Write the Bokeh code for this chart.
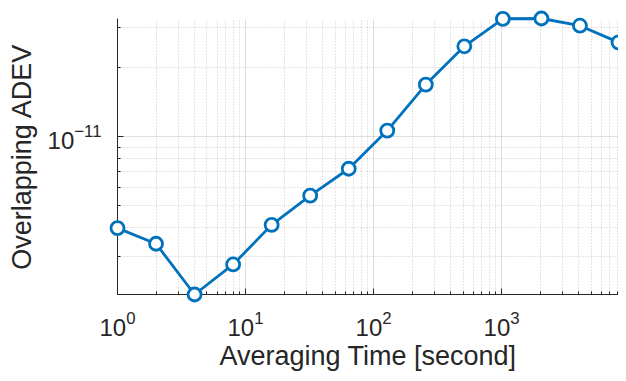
import numpy as np
from bokeh.plotting import figure
from bokeh.models import FixedTicker, Range1d, LogTickFormatter
from bokeh.embed import file_html
from bokeh.resources import INLINE

# ---- data ----
tau = [1, 2, 4, 8, 16, 32, 64, 128, 256, 512, 1024, 2048, 4096, 8192]
adev = [3.98e-12, 3.40e-12, 2.04e-12, 2.76e-12, 4.11e-12, 5.52e-12, 7.23e-12,
        1.062e-11, 1.687e-11, 2.48e-11, 3.27e-11, 3.28e-11, 3.05e-11, 2.58e-11]

x_major = [1, 10, 100, 1000]
x_minor = [m * 10 ** k for k in range(4) for m in range(2, 10)]
y_major = [1e-11]
y_minor = [m * 1e-12 for m in range(2, 10)] + [2e-11, 3e-11]

x_label = "Averaging Time [second]"
y_label = "Overlapping ADEV"

BLUE = "#0072BD"
DARK = "#262626"
FONT = "Liberation Sans"

p = figure(width=618, height=373, x_axis_type="log", y_axis_type="log",
           x_range=Range1d(1, 8192), y_range=Range1d(min(adev), max(adev)),
           output_backend="svg", toolbar_location=None,
           min_border_left=117, min_border_right=0, min_border_top=18,
           min_border_bottom=78)
p.outline_line_color = None
p.background_fill_color = "white"
p.border_fill_color = "white"

p.line(tau, adev, line_color=BLUE, line_width=2.8, level="overlay")
p.scatter(tau, adev, marker="circle", size=13, line_color=BLUE, line_width=2.8,
          fill_color="white", level="overlay")

for ax, major, minor in ((p.xaxis[0], x_major, x_minor), (p.yaxis[0], y_major, y_minor)):
    ax.ticker = FixedTicker(ticks=major, minor_ticks=minor)
    ax.formatter = LogTickFormatter()
    ax.axis_line_color = DARK
    ax.axis_line_width = 1
    ax.major_tick_line_color = DARK
    ax.minor_tick_line_color = DARK
    ax.major_tick_in = 6
    ax.major_tick_out = 0
    ax.minor_tick_in = 3
    ax.minor_tick_out = 0
    ax.major_label_text_font = FONT
    ax.major_label_text_font_size = "24px"
    ax.major_label_text_color = DARK
    ax.axis_label_text_font = FONT
    ax.axis_label_text_font_size = "27px"
    ax.axis_label_text_font_style = "normal"
    ax.axis_label_text_color = DARK

p.xaxis.axis_label = x_label
p.yaxis.axis_label = y_label
p.xaxis.major_label_standoff = 16
p.xaxis.axis_label_standoff = 2
p.yaxis.major_label_standoff = 16
p.yaxis.axis_label_standoff = 8

for g in (p.xgrid[0], p.ygrid[0]):
    g.grid_line_color = DARK
    g.grid_line_alpha = 0.15
    g.grid_line_width = 1
    g.minor_grid_line_color = DARK
    g.minor_grid_line_alpha = 0.25
    g.minor_grid_line_dash = "1 2"
    g.minor_grid_line_width = 1

open("out.html", "w").write(file_html(p, INLINE))
